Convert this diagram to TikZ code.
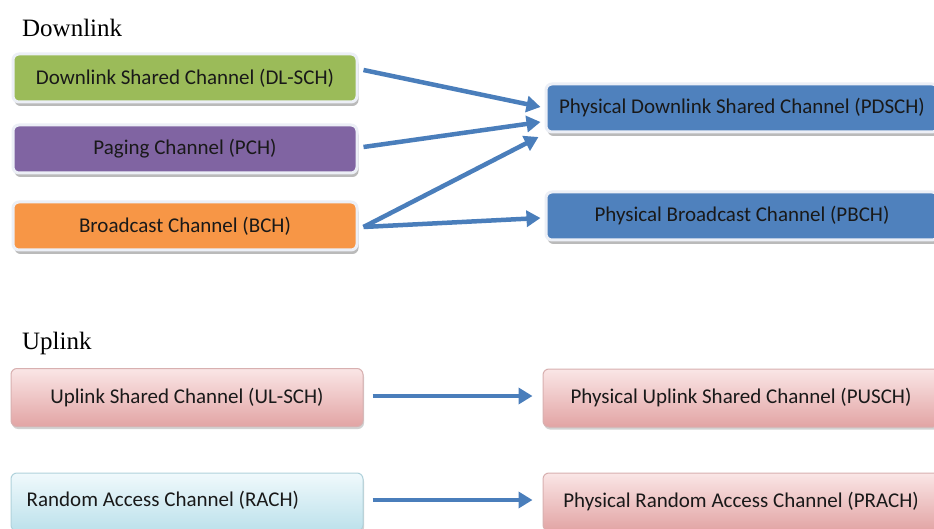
\documentclass[tikz,border=0pt]{standalone}
\usepackage{fontspec}
\setmainfont{Liberation Serif}
\newfontfamily\boxfont{Carlito}
\usetikzlibrary{arrows.meta,shadows}

\definecolor{dlgreen}{HTML}{9BBB59}
\definecolor{dlpurple}{HTML}{8064A2}
\definecolor{dlorange}{HTML}{F79646}
\definecolor{phyblue}{HTML}{4F81BD}
\definecolor{rimcol}{HTML}{ECEFF6}
\definecolor{pinktop}{HTML}{FAE6E6}
\definecolor{pinkbot}{HTML}{E2A4A4}
\definecolor{pinkrim}{HTML}{D8B0B0}
\definecolor{cyantop}{HTML}{F0F9FC}
\definecolor{cyanbot}{HTML}{BCE1EB}
\definecolor{cyanrim}{HTML}{B0D2DB}
\definecolor{arrowblue}{HTML}{4A7EBB}

\begin{document}
\begin{tikzpicture}[x=1pt,y=-1pt,
  chan/.style={rounded corners=6pt, inner sep=0pt,
    font=\boxfont\fontsize{21}{25}\selectfont, text=black!90},
  solidbox/.style={chan, draw=rimcol, line width=3pt,
    minimum width=344pt, minimum height=48pt,
    drop shadow={shadow xshift=1.5pt, shadow yshift=-4pt, fill=black!60, opacity=0.45}},
  phybox/.style={solidbox, fill=phyblue, minimum width=392pt},
  pinkbox/.style={chan, draw=pinkrim, line width=1pt, top color=pinktop, bottom color=pinkbot,
    minimum width=396pt, minimum height=58pt,
    drop shadow={shadow xshift=1pt, shadow yshift=-2.5pt, fill=black!50, opacity=0.35}},
  cyanbox/.style={chan, draw=cyanrim, line width=1pt, top color=cyantop, bottom color=cyanbot,
    minimum width=352pt, minimum height=58pt,
    drop shadow={shadow xshift=1pt, shadow yshift=-2.5pt, fill=black!50, opacity=0.35}},
  heading/.style={anchor=base west, inner sep=0pt, font=\fontsize{25}{30}\selectfont},
  link/.style={draw=arrowblue, line width=4.5pt,
    -{Triangle[length=14pt,width=16pt]}}
]
\useasboundingbox (0,0) rectangle (934,529);
\clip (0,0) rectangle (934,529);
\fill[white] (0,0) rectangle (934,529);

% Downlink transport channels
\node[heading] (dlhead) at (22,37) {Downlink};
\node[solidbox, fill=dlgreen]  (dlsch) at (185,78)  {Downlink Shared Channel (DL-SCH)};
\node[solidbox, fill=dlpurple] (pch)   at (185,149) {Paging Channel (PCH)};
\node[solidbox, fill=dlorange] (bch)   at (185,226) {Broadcast Channel (BCH)};

% Downlink physical channels
\node[phybox] (pdsch) at (742,108) {Physical Downlink Shared Channel (PDSCH)};
\node[phybox] (pbch)  at (742,216) {Physical Broadcast Channel (PBCH)};

% Downlink mapping
\draw[link] ([xshift=5pt,yshift=8pt]dlsch.east) -- ([xshift=-4pt,yshift=1pt]pdsch.west);
\draw[link] ([xshift=5pt,yshift=2pt]pch.east)   -- ([xshift=-4pt,yshift=-14pt]pdsch.west);
\draw[link] ([xshift=5pt,yshift=-1pt]bch.east)  -- ([xshift=-6pt,yshift=-29pt]pdsch.west);
\draw[link] ([xshift=5pt,yshift=-1pt]bch.east)  -- ([xshift=-4pt,yshift=-2pt]pbch.west);

% Uplink transport channels
\node[heading] (ulhead) at (22,349) {Uplink};
\node[pinkbox, minimum width=352pt] (ulsch) at (187,397.5) {Uplink Shared Channel (UL-SCH)};
\node[cyanbox] (rach) at (187,502) {};
\node[chan, anchor=west] (rachlabel) at ([xshift=16pt,yshift=2pt]rach.west) {Random Access Channel (RACH)};

% Uplink physical channels
\node[pinkbox] (pusch) at (741,398) {Physical Uplink Shared Channel (PUSCH)};
\node[pinkbox] (prach) at (741,502) {Physical Random Access Channel (PRACH)};

% Uplink mapping
\draw[link] ([xshift=9pt,yshift=1.5pt]ulsch.east) -- ([xshift=-10pt,yshift=2pt]pusch.west);
\draw[link] ([xshift=9pt,yshift=2pt]rach.east)    -- ([xshift=-10pt,yshift=2pt]prach.west);
\end{tikzpicture}
\end{document}
